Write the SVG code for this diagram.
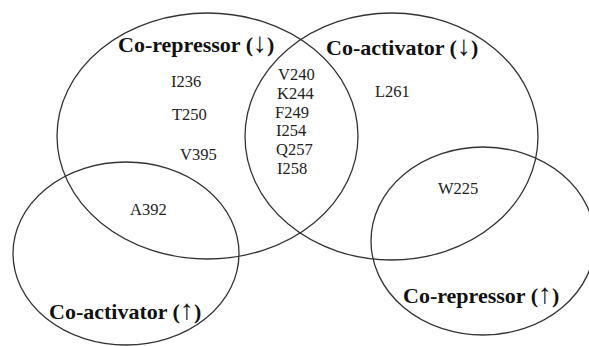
<svg xmlns="http://www.w3.org/2000/svg" width="589" height="346" viewBox="0 0 589 346">
<style>
.set{fill:none;stroke:#333;stroke-width:1.3}
.title{font-family:"Liberation Serif","Times New Roman",serif;font-size:22px;font-weight:bold;fill:#111}
.arr{font-size:28px}
.res{font-family:"Liberation Serif","Times New Roman",serif;font-size:16.5px;fill:#222}
</style>
<rect width="589" height="346" fill="#fff"/>
<g id="corepressor-down">
<ellipse class="set" cx="207.5" cy="136" rx="150.5" ry="123"/>
<text class="title" x="118" y="52">Co-repressor (<tspan class="arr">↓</tspan>)</text>
<text class="res" x="171" y="87">I236</text>
<text class="res" x="172" y="120">T250</text>
<text class="res" x="180" y="160">V395</text>
</g>
<g id="coactivator-down">
<ellipse class="set" cx="391.5" cy="136.5" rx="146.5" ry="123.5"/>
<text class="title" x="326" y="55">Co-activator (<tspan class="arr">↓</tspan>)</text>
<text class="res" x="375" y="97">L261</text>
</g>
<g id="shared-down">
<text class="res" x="278" y="80">V240</text>
<text class="res" x="277" y="99">K244</text>
<text class="res" x="275" y="117.5">F249</text>
<text class="res" x="276" y="136">I254</text>
<text class="res" x="276" y="154.5">Q257</text>
<text class="res" x="277" y="173.5">I258</text>
</g>
<g id="coactivator-up">
<ellipse class="set" cx="126" cy="253.5" rx="113" ry="91.5"/>
<text class="title" x="49" y="319">Co-activator (<tspan class="arr">↑</tspan>)</text>
<text class="res" x="130" y="215">A392</text>
</g>
<g id="corepressor-up">
<ellipse class="set" cx="483" cy="241" rx="112" ry="94"/>
<text class="title" x="403" y="303">Co-repressor (<tspan class="arr">↑</tspan>)</text>
<text class="res" x="438" y="194">W225</text>
</g>
</svg>
